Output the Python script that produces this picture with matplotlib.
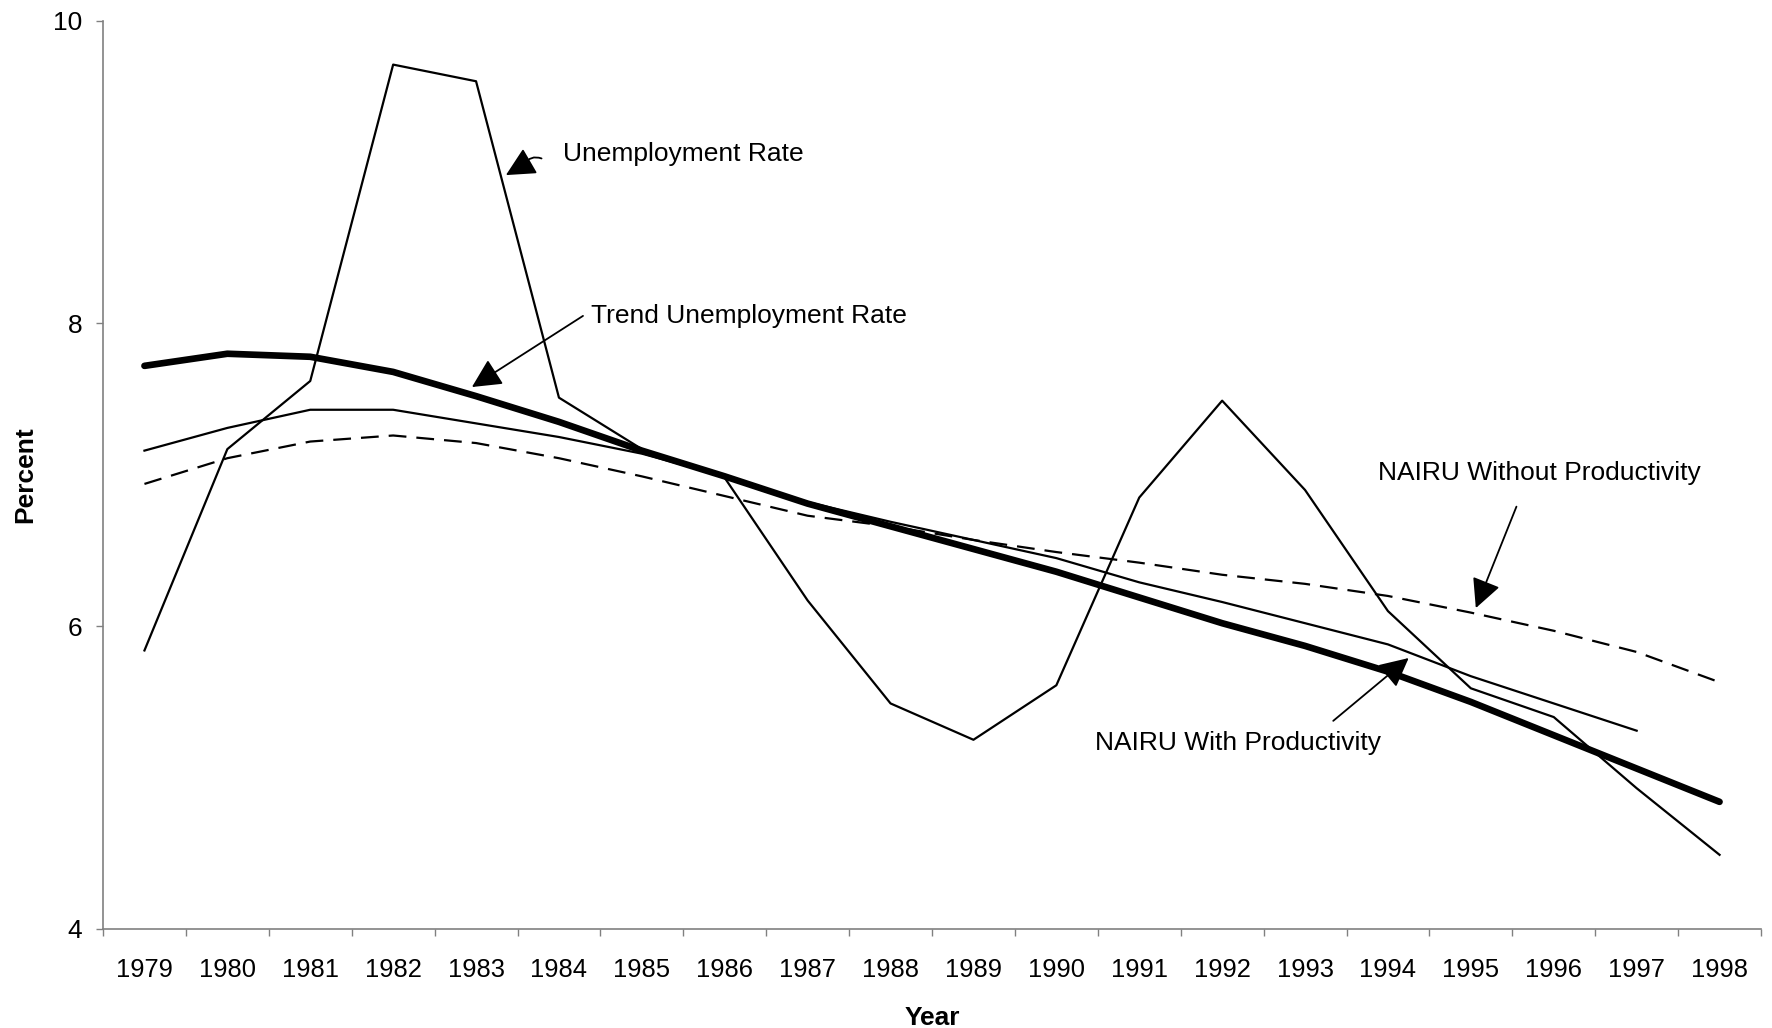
import matplotlib
matplotlib.use("Agg")
import matplotlib.pyplot as plt
import numpy as np

plt.rcParams['font.family'] = ['Liberation Sans', 'DejaVu Sans']

years = [str(y) for y in range(1979, 1999)]

unemployment = [5.84, 7.17, 7.62, 9.71, 9.60, 7.51, 7.17, 6.98, 6.17, 5.49,
                5.25, 5.61, 6.85, 7.49, 6.90, 6.10, 5.59, 5.40, 4.93, 4.49]

trend = [7.72, 7.80, 7.78, 7.68, 7.52, 7.35, 7.16, 6.99, 6.81, 6.66,
         6.51, 6.36, 6.19, 6.02, 5.87, 5.70, 5.50, 5.28, 5.06, 4.84]

nairu_with = [7.16, 7.31, 7.43, 7.43, 7.34, 7.25, 7.14, 6.99, 6.82, 6.69,
              6.57, 6.45, 6.29, 6.16, 6.02, 5.88, 5.67, 5.49, 5.31]

nairu_without = [6.94, 7.11, 7.22, 7.26, 7.21, 7.11, 6.99, 6.86, 6.73, 6.66,
                 6.57, 6.49, 6.42, 6.34, 6.28, 6.20, 6.09, 5.97, 5.83, 5.63]

y_ticks = [4, 6, 8, 10]

fig = plt.figure(figsize=(17.72, 10.28), dpi=100)
ax = fig.add_axes([103 / 1772, 1 - 929 / 1028, 1658 / 1772, (929 - 20.7) / 1028])

x = np.arange(len(years))

ax.plot(x[:len(unemployment)], unemployment, color='black', lw=1.6)
ax.plot(x[:len(nairu_with)], nairu_with, color='black', lw=1.6)
ax.plot(x[:len(nairu_without)], nairu_without, color='black', lw=1.6,
        linestyle=(0, (8, 4.5)))
ax.plot(x[:len(trend)], trend, color='black', lw=4.8, solid_capstyle='round',
        solid_joinstyle='round')

ax.set_xlim(-0.5, len(years) - 0.5)
ax.set_ylim(4, 10)
ax.set_yticks(y_ticks)
ax.set_yticklabels([str(v) for v in y_ticks])
ax.set_xticks(x)
ax.set_xticklabels(years)
ax.set_xticks(np.arange(-0.5, len(years)), minor=True)

spine_col = '#808080'
for s in ['top', 'right']:
    ax.spines[s].set_visible(False)
for s in ['left', 'bottom']:
    ax.spines[s].set_color(spine_col)
    ax.spines[s].set_linewidth(1.2)

ax.tick_params(axis='x', which='major', length=0, pad=21, labelsize=18.4)
ax.tick_params(axis='x', which='minor', length=5.3, width=1.0, color=spine_col,
               direction='out')
ax.tick_params(axis='y', which='major', length=5, width=1.0, color=spine_col,
               direction='out', pad=10, labelsize=19)

ax.set_ylabel('Percent', fontsize=19, fontweight='bold')
ax.yaxis.label.set_va('center')
ax.yaxis.set_label_coords(-0.047, 0.5)
ax.set_xlabel('Year', fontsize=19, fontweight='bold')
ax.xaxis.label.set_va('center')
ax.xaxis.set_label_coords(0.5, -0.098)

head_kw = dict(arrowstyle='-|>,head_length=0.9,head_width=0.45', color='black',
               lw=1.3, mutation_scale=20, shrinkA=0, shrinkB=0)
shaft_kw = dict(arrowstyle='-', color='black', lw=1.3, shrinkA=0, shrinkB=0)

# Unemployment Rate (curved leader)
ax.text(5.05, 9.118, 'Unemployment Rate', fontsize=19, ha='left', va='center')
ax.annotate('', xy=(4.58, 9.05), xytext=(4.79, 9.09),
            arrowprops=dict(connectionstyle='arc3,rad=0.4', **shaft_kw))
ax.annotate('', xy=(4.36, 8.98), xytext=(4.58, 9.05), arrowprops=head_kw)

# Trend Unemployment Rate
ax.text(5.39, 8.048, 'Trend Unemployment Rate', fontsize=19, ha='left', va='center')
ax.annotate('', xy=(3.95, 7.58), xytext=(5.29, 8.05), arrowprops=head_kw)

# NAIRU Without Productivity
ax.text(14.88, 7.013, 'NAIRU Without Productivity', fontsize=19, ha='left', va='center')
ax.annotate('', xy=(16.06, 6.12), xytext=(16.55, 6.79), arrowprops=head_kw)

# NAIRU With Productivity
ax.text(11.47, 5.228, 'NAIRU With Productivity', fontsize=19, ha='left', va='center')
ax.annotate('', xy=(15.25, 5.79), xytext=(14.34, 5.375), arrowprops=head_kw)

fig.savefig('out.png', dpi=100)
